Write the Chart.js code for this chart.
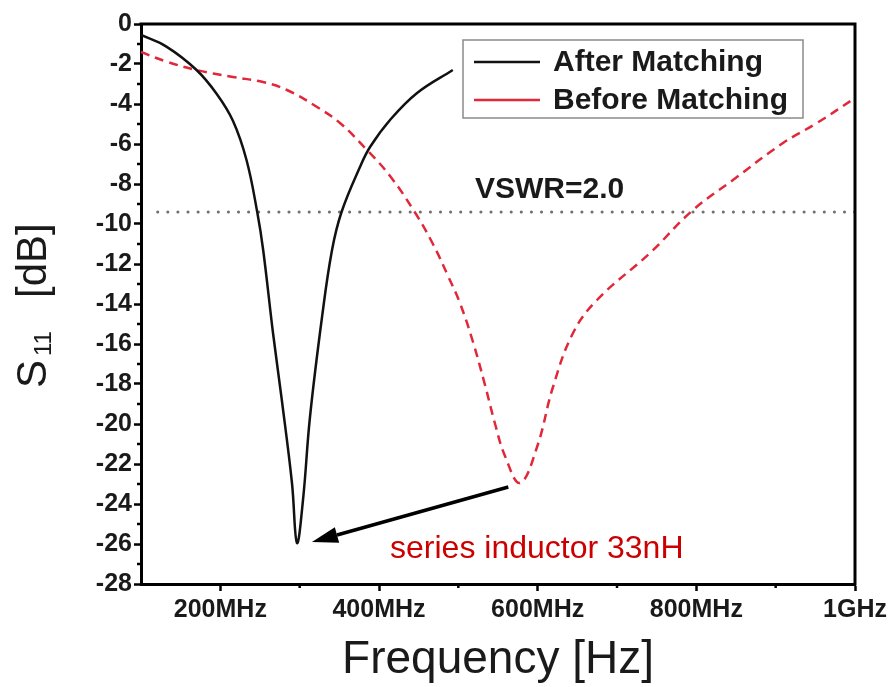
<!DOCTYPE html>
<html><head><meta charset="utf-8">
<script src="https://cdn.jsdelivr.net/npm/chart.js@4/dist/chart.umd.min.js"></script>
<style>html,body{margin:0;padding:0;background:#fff}</style>
</head><body>
<canvas id="c" width="895" height="687"></canvas>
<script>
// ---- data (frequency in MHz, S11 in dB) ----
const afterFreq = [100,132,170,195.5,216,233,246.5,254,266.4,277.5,290.3,296.6,304.2,313,328.2,340.8,352.8,376,388.7,413.9,448,493];
const afterS11  = [-0.55,-1.13,-2.3,-3.5,-4.85,-6.8,-9.4,-11.3,-15.45,-18.8,-22.95,-25.95,-23.8,-19.65,-14.65,-11.3,-9.4,-7.15,-6.15,-4.8,-3.45,-2.3];
const beforeFreq = [100,132,170,216,253.8,284,321.9,350.8,384.9,413.9,445,468,487,502,518.5,533.6,546,558.8,577.8,599.2,619.3,644.6,674.8,741.6,795.8,846.2,909.3,952.1,1000];
const beforeS11  = [-1.4,-1.88,-2.3,-2.65,-2.9,-3.3,-4.15,-4.95,-6.3,-7.6,-9.4,-11.0,-12.6,-13.95,-15.9,-18.05,-19.95,-21.6,-22.95,-21.15,-18.15,-15.45,-13.8,-11.45,-9.3,-7.8,-5.95,-4.95,-3.7];
const vswrFreq = [121, 1000];
const vswrLevel = -9.4;
const xTickValues = [200, 400, 600, 800, 1000];
const xTickLabels = ['200MHz', '400MHz', '600MHz', '800MHz', '1GHz'];
const seriesNames = ['After Matching', 'Before Matching'];
const vswrText = 'VSWR=2.0';
const noteText = 'series inductor 33nH';
const arrowFrom = [563, -23.15];
const arrowTo = [315.5, -25.9];
const noteAt = [413.9, -26.25];
const vswrLabelAt = [521, -8.3];

const FONT = "'Liberation Sans', Arial, Helvetica, sans-serif";
const RED = '#e0283a';

function pts(xs, ys) { return xs.map((x, i) => ({ x: x, y: ys[i] })); }

const decor = {
  id: 'decor',
  afterDraw(chart) {
    const ctx = chart.ctx, a = chart.chartArea;
    const xs = chart.scales.x, ys = chart.scales.y;
    ctx.save();
    // frame top & right
    ctx.strokeStyle = '#000'; ctx.lineWidth = 3; ctx.lineCap = 'square';
    ctx.beginPath();
    ctx.moveTo(a.left, a.top); ctx.lineTo(a.right, a.top); ctx.lineTo(a.right, a.bottom);
    ctx.stroke();
    // minor ticks
    ctx.lineWidth = 2.5; ctx.lineCap = 'butt';
    ctx.beginPath();
    for (let v = -27; v <= -1; v += 2) {
      const y = ys.getPixelForValue(v);
      ctx.moveTo(a.left - 4, y); ctx.lineTo(a.left, y);
    }
    for (let v = 300; v <= 900; v += 200) {
      const x = xs.getPixelForValue(v);
      ctx.moveTo(x, a.bottom); ctx.lineTo(x, a.bottom + 4);
    }
    ctx.stroke();

    // legend
    const lx = a.left + 322, ly = 40, lw = 340, lh = 78;
    ctx.fillStyle = '#fff';
    ctx.fillRect(lx, ly, lw, lh);
    ctx.strokeStyle = '#8a8a8a'; ctx.lineWidth = 1.5;
    ctx.strokeRect(lx, ly, lw, lh);
    const rows = [ly + 22, ly + 60];
    const cols = ['#111', RED];
    ctx.font = 'bold 30px ' + FONT;
    ctx.textBaseline = 'middle'; ctx.textAlign = 'left';
    rows.forEach((ry, i) => {
      ctx.strokeStyle = cols[i]; ctx.lineWidth = 2.5;
      ctx.beginPath(); ctx.moveTo(lx + 11, ry); ctx.lineTo(lx + 77, ry); ctx.stroke();
      ctx.fillStyle = '#1a1a1a';
      ctx.fillText(seriesNames[i], lx + 90, ry + 1);
    });

    // VSWR label
    ctx.font = 'bold 30px ' + FONT;
    ctx.fillStyle = '#1a1a1a';
    ctx.fillText(vswrText, xs.getPixelForValue(vswrLabelAt[0]), ys.getPixelForValue(vswrLabelAt[1]));

    // arrow
    const x1 = xs.getPixelForValue(arrowFrom[0]), y1 = ys.getPixelForValue(arrowFrom[1]);
    const x2 = xs.getPixelForValue(arrowTo[0]), y2 = ys.getPixelForValue(arrowTo[1]);
    const ang = Math.atan2(y2 - y1, x2 - x1);
    const hl = 26, hw = 8;
    const bx = x2 - hl * Math.cos(ang), by = y2 - hl * Math.sin(ang);
    ctx.strokeStyle = '#000'; ctx.lineWidth = 3.5;
    ctx.beginPath(); ctx.moveTo(x1, y1); ctx.lineTo(bx, by); ctx.stroke();
    ctx.fillStyle = '#000';
    ctx.beginPath();
    ctx.moveTo(x2, y2);
    ctx.lineTo(bx + hw * Math.sin(ang), by - hw * Math.cos(ang));
    ctx.lineTo(bx - hw * Math.sin(ang), by + hw * Math.cos(ang));
    ctx.closePath(); ctx.fill();

    // note text
    ctx.font = '32px ' + FONT;
    ctx.fillStyle = '#cc0000';
    ctx.textBaseline = 'middle';
    ctx.fillText(noteText, xs.getPixelForValue(noteAt[0]), ys.getPixelForValue(noteAt[1]));

    // x title
    ctx.font = '46px ' + FONT;
    ctx.fillStyle = '#1a1a1a';
    ctx.textAlign = 'center';
    ctx.fillText('Frequency [Hz]', (a.left + a.right) / 2, 660);

    // y title with subscript
    ctx.translate(46, 388);
    ctx.rotate(-Math.PI / 2);
    ctx.textAlign = 'left'; ctx.textBaseline = 'alphabetic';
    ctx.font = '42px ' + FONT;
    ctx.fillText('S', 0, 0);
    const sw = ctx.measureText('S').width;
    ctx.font = '24px ' + FONT;
    ctx.fillText('11', sw + 4, 5);
    ctx.font = '42px ' + FONT;
    ctx.fillText('[dB]', 90, 0);
    ctx.restore();
  }
};

new Chart(document.getElementById('c'), {
  type: 'line',
  data: {
    datasets: [
      { label: seriesNames[0], data: pts(afterFreq, afterS11), borderColor: '#111', borderWidth: 2.5,
        pointRadius: 0, tension: 0.4, fill: false },
      { label: seriesNames[1], data: pts(beforeFreq, beforeS11), borderColor: RED, borderWidth: 2.5,
        borderDash: [9, 6], pointRadius: 0, tension: 0.4, fill: false },
      { label: 'VSWR', data: vswrFreq.map(f => ({ x: f, y: vswrLevel })), borderColor: '#707070', borderWidth: 3,
        borderDash: [0.1, 10], borderCapStyle: 'round', pointRadius: 0, fill: false }
    ]
  },
  options: {
    responsive: false,
    animation: false,
    devicePixelRatio: 1,
    layout: { padding: { left: 0, right: 40, top: 24, bottom: 0 } },
    plugins: { legend: { display: false }, tooltip: { enabled: false } },
    scales: {
      x: {
        type: 'linear', min: 100, max: 1000,
        afterFit: s => { s.height = 103; },
        afterBuildTicks: s => { s.ticks = [100,200,300,400,500,600,700,800,900,1000].map(v => ({ value: v })); },
        ticks: {
          autoSkip: false, maxRotation: 0, padding: 4,
          color: '#1a1a1a', font: { family: FONT, size: 25, weight: 'bold' },
          callback: v => { const i = xTickValues.indexOf(v); return i >= 0 ? xTickLabels[i] : ''; }
        },
        grid: { drawOnChartArea: false, drawTicks: true, tickLength: 7, tickWidth: 2.5,
          tickColor: c => (c.tick && xTickValues.indexOf(c.tick.value) >= 0) ? '#000' : 'rgba(0,0,0,0)' },
        border: { display: true, color: '#000', width: 3 }
      },
      y: {
        type: 'linear', min: -28, max: 0,
        afterFit: s => { s.width = 141; },
        afterBuildTicks: s => { const t = []; for (let v = -28; v <= 0; v += 1) t.push({ value: v }); s.ticks = t; },
        ticks: {
          autoSkip: false, padding: 2,
          color: '#1a1a1a', font: { family: FONT, size: 25, weight: 'bold' },
          callback: v => (Math.abs(v) % 2 === 0) ? String(v) : ''
        },
        grid: { drawOnChartArea: false, drawTicks: true, tickLength: 7, tickWidth: 2.5,
          tickColor: c => (c.tick && Math.abs(c.tick.value) % 2 === 0) ? '#000' : 'rgba(0,0,0,0)' },
        border: { display: true, color: '#000', width: 3 }
      }
    }
  },
  plugins: [decor]
});
</script>
</body></html>
